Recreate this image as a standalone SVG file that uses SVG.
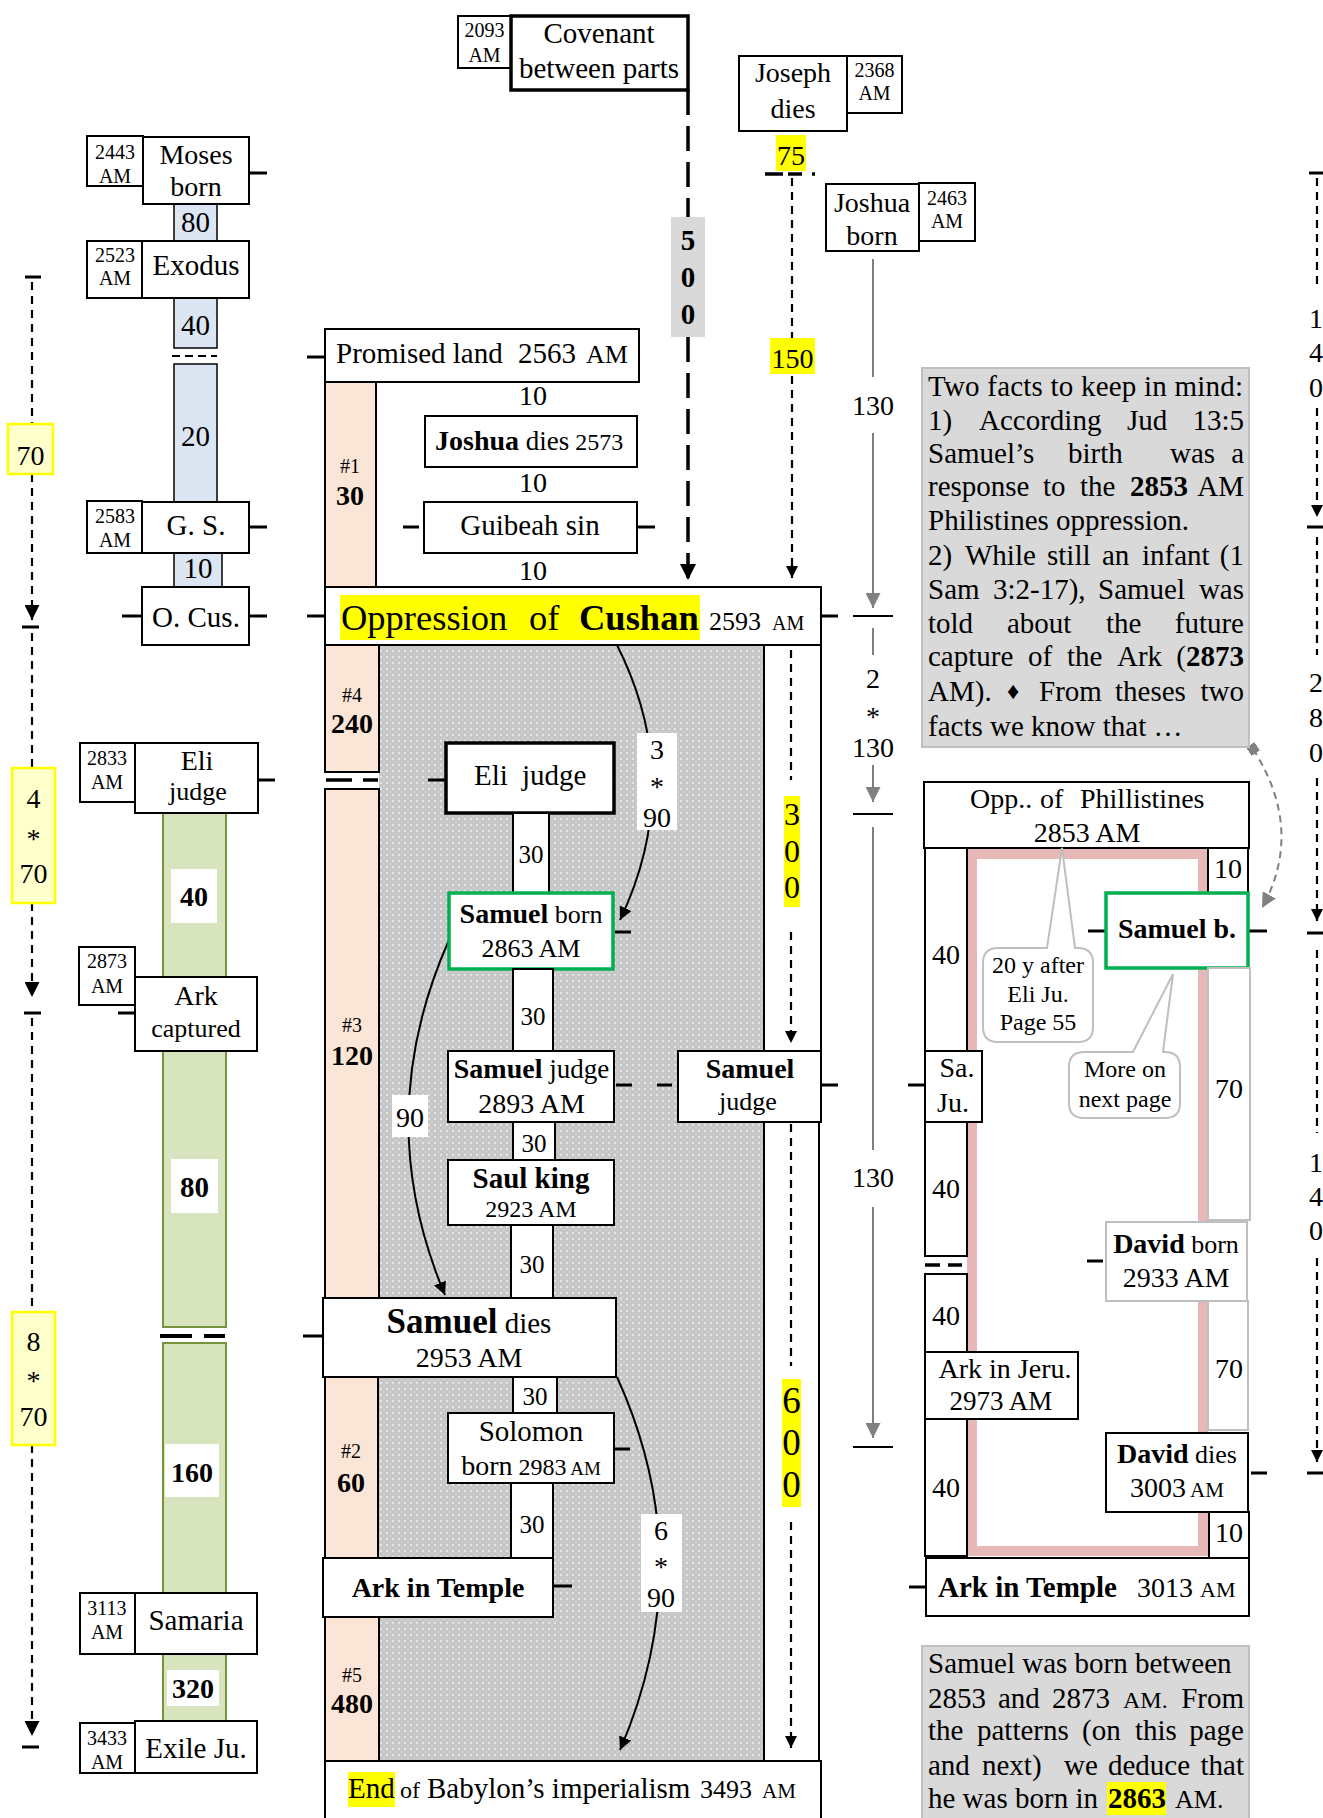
<svg xmlns="http://www.w3.org/2000/svg" width="1323" height="1818" viewBox="0 0 1323 1818">
<defs>
<style>
svg{font-size:28px}
text{font-family:"Liberation Serif","Times New Roman","DejaVu Serif",serif;fill:#000}
.m{text-anchor:middle}
.e{text-anchor:end}
.b{font-weight:bold}
.s20{font-size:20px}
.s24{font-size:24px}
.s25{font-size:25px}
.s26{font-size:26px}
.s29{font-size:29px}
.box{fill:#fff;stroke:#000;stroke-width:2}
.thk{fill:#fff;stroke:#000;stroke-width:3.5}
.grn{fill:#fff;stroke:#00b050;stroke-width:3.5}
.gry{fill:#fff;stroke:#bfbfbf;stroke-width:2}
.blu{fill:#dce6f2;stroke:#000;stroke-width:1.5}
.olv{fill:#d7e4bd;stroke:#77933c;stroke-width:2}
.pch{fill:#fbe5d6;stroke:#000;stroke-width:2}
.yel{fill:#ffff00}
.pale{fill:#ffffcc;stroke:#ffff00;stroke-width:2.5}
.note{fill:#d9d9d9;stroke:#bfbfbf;stroke-width:2}
.wht{fill:#fff}
.tk{stroke:#000;stroke-width:3;fill:none}
.tk2{stroke:#000;stroke-width:2;fill:none}
.dsh{stroke:#000;stroke-width:2.2;stroke-dasharray:8 6;fill:none}
.ldsh{stroke:#000;stroke-width:3.5;stroke-dasharray:25 11;fill:none}
.gl{stroke:#808080;stroke-width:2;fill:none}
.cur{stroke:#000;stroke-width:2;fill:none}
.gdc{stroke:#808080;stroke-width:2;stroke-dasharray:7 5;fill:none}
.call{fill:#fff;stroke:#bfbfbf;stroke-width:2}
.pink{fill:none;stroke:#e6b9b8;stroke-width:10}
</style>
<pattern id="hatch" width="6" height="6" patternUnits="userSpaceOnUse">
<rect width="6" height="6" fill="#c4c4c4"/>
<circle cx="3" cy="3" r="1.4" fill="#e2e2e2"/>
<circle cx="0" cy="0" r="0.9" fill="#dadada"/>
<circle cx="6" cy="0" r="0.9" fill="#dadada"/>
<circle cx="0" cy="6" r="0.9" fill="#dadada"/>
<circle cx="6" cy="6" r="0.9" fill="#dadada"/>
</pattern>
<marker id="aBig" viewBox="0 0 10 10" refX="10" refY="5" markerWidth="16" markerHeight="16" markerUnits="userSpaceOnUse" orient="auto"><path d="M0,0L10,5L0,10z" fill="#000"/></marker>
<marker id="aMed" viewBox="0 0 10 10" refX="10" refY="5" markerWidth="15" markerHeight="15" markerUnits="userSpaceOnUse" orient="auto"><path d="M0,0L10,5L0,10z" fill="#000"/></marker>
<marker id="aSm" viewBox="0 0 10 10" refX="10" refY="5" markerWidth="12" markerHeight="12" markerUnits="userSpaceOnUse" orient="auto"><path d="M0,0L10,5L0,10z" fill="#000"/></marker>
<marker id="aGr" viewBox="0 0 10 10" refX="10" refY="5" markerWidth="15" markerHeight="15" markerUnits="userSpaceOnUse" orient="auto"><path d="M0,0L10,5L0,10z" fill="#808080"/></marker>
<marker id="aCur" viewBox="0 0 10 10" refX="10" refY="5" markerWidth="13" markerHeight="13" markerUnits="userSpaceOnUse" orient="auto"><path d="M0,0L10,5L0,10z" fill="#000"/></marker>
<marker id="sqGr" viewBox="0 0 10 10" refX="5" refY="5" markerWidth="10" markerHeight="10" markerUnits="userSpaceOnUse" orient="auto"><rect width="10" height="10" fill="#808080"/></marker>
</defs>

<rect width="1323" height="1818" fill="#fff"/>

<!-- backgrounds / columns -->
<g id="backgrounds">
<rect x="379" y="645" width="385" height="1116" fill="url(#hatch)"/>
<rect class="pch" x="325" y="382" width="51" height="205"/>
<rect class="pch" x="325" y="645" width="54" height="127"/>
<path d="M326 780H352M363 780H378" stroke="#000" stroke-width="3.5"/>
<rect class="pch" x="325" y="789" width="54" height="509"/>
<rect class="pch" x="325" y="1377" width="53" height="181"/>
<rect class="pch" x="325" y="1617" width="54" height="144"/>
<rect class="box" x="764" y="645" width="57" height="406"/>
<rect class="box" x="764" y="1122" width="55" height="639"/>
<!-- left column bars -->
<rect class="blu" x="174" y="204" width="43" height="37"/>
<rect class="blu" x="174" y="298" width="43" height="50"/>
<path d="M172 356H217" stroke="#000" stroke-width="2" stroke-dasharray="8 5"/>
<rect class="blu" x="174" y="364" width="43" height="138"/>
<rect class="blu" x="174" y="553" width="48" height="34"/>
<rect class="olv" x="163" y="813" width="63" height="514"/>
<path d="M160 1336H192M204 1336H225" stroke="#000" stroke-width="4"/>
<rect class="olv" x="163" y="1343" width="63" height="250"/>
<rect class="olv" x="163" y="1654" width="63" height="67"/>
<!-- right frame -->
<rect class="pink" x="972" y="854" width="231" height="697"/>
</g>

<!-- connectors -->
<g id="connectors">
<!-- left timeline -->
<path class="tk" d="M25 277H41M22 627H39M24 1013H41M22 1747H39"/>
<path class="dsh" d="M32 282V424"/>
<path class="dsh" d="M32 474V620" marker-end="url(#aMed)"/>
<path class="dsh" d="M32 633V768"/>
<path class="dsh" d="M32 903V997" marker-end="url(#aMed)"/>
<path class="dsh" d="M32 1018V1312"/>
<path class="dsh" d="M32 1445V1736" marker-end="url(#aMed)"/>
<!-- right timeline -->
<path class="tk" d="M1309 173H1323M1307 527H1323M1307 933H1323M1307 1473H1323"/>
<path class="dsh" d="M1317 178V287"/>
<path class="dsh" d="M1317 408V517" marker-end="url(#aSm)"/>
<path class="dsh" d="M1317 537V655"/>
<path class="dsh" d="M1317 778V921" marker-end="url(#aSm)"/>
<path class="dsh" d="M1317 950V1133"/>
<path class="dsh" d="M1317 1258V1462" marker-end="url(#aSm)"/>
<!-- covenant 500 -->
<path class="ldsh" d="M688 90V217"/>
<path class="ldsh" d="M688 337V580" marker-end="url(#aBig)"/>
<!-- Joseph 75 / 150 -->
<path d="M765 174H783M788 174H802M812 174H815" stroke="#000" stroke-width="3.5"/>
<path class="dsh" d="M792 178V338"/>
<path class="dsh" d="M792 376V578" marker-end="url(#aSm)"/>
<!-- Joshua 130 -->
<path class="gl" d="M873 259V377"/>
<path class="gl" d="M873 433V608" marker-end="url(#aGr)"/>
<path class="tk2" d="M853 616H893M853 814H893M853 1447H893"/>
<path class="gl" d="M873 628V655"/>
<path class="gl" d="M873 765V802" marker-end="url(#aGr)"/>
<path class="gl" d="M873 827V1150"/>
<path class="gl" d="M873 1207V1438" marker-end="url(#aGr)"/>
<!-- 300 / 600 -->
<path class="dsh" d="M791 650V780"/>
<path class="dsh" d="M791 932V1043" marker-end="url(#aSm)"/>
<path class="dsh" d="M791 1124V1366"/>
<path class="dsh" d="M791 1522V1748" marker-end="url(#aSm)"/>
<!-- ticks on boxes -->
<path class="tk" d="M249 173H267M249 527H267M122 616H142M249 616H267M258 780H275M118 1013H135"/>
<path class="tk" d="M307 357H325M403 527H419M637 527H655M307 616H325M821 616H838M428 780H446M615 932H631M616 1085H632M657 1085H672M821 1085H838M614 1449H630M303 1336H323M553 1586H572"/>
<path class="tk" d="M908 1085H925M1088 931H1106M1248 931H1267M1087 1261H1103M1251 1473H1267M909 1587H926"/>
<path d="M925 1265H940M948 1265H962" stroke="#000" stroke-width="3.5"/>
<!-- curved arrows -->
<path class="cur" d="M617 645Q686 782 620 920" marker-end="url(#aCur)"/>
<path class="cur" d="M449 940Q370 1118 445 1295" marker-end="url(#aCur)"/>
<path class="cur" d="M617 1377Q701 1562 620 1750" marker-end="url(#aCur)"/>
<path class="gdc" d="M1253 749Q1305 830 1262 908" marker-start="url(#sqGr)" marker-end="url(#aGr)"/>
<!-- labels on connectors -->
<rect class="wht" x="637" y="733" width="40" height="97"/>
<text class="m" x="657" y="759">3</text>
<text class="m" x="657" y="796">*</text>
<text class="m" x="657" y="827">90</text>
<rect class="wht" x="392" y="1095" width="36" height="42"/>
<text class="m" x="410" y="1127">90</text>
<rect class="wht" x="641" y="1514" width="41" height="98"/>
<text class="m" x="661" y="1540">6</text>
<text class="m" x="661" y="1576">*</text>
<text class="m" x="661" y="1607">90</text>
<text class="m" x="873" y="415">130</text>
<text class="m" x="873" y="688">2</text>
<text class="m" x="873" y="726">*</text>
<text class="m" x="873" y="757">130</text>
<text class="m" x="873" y="1187">130</text>
<text x="1309" y="328">1</text>
<text x="1309" y="362">4</text>
<text x="1309" y="397">0</text>
<text x="1309" y="692">2</text>
<text x="1309" y="727">8</text>
<text x="1309" y="762">0</text>
<text x="1309" y="1172">1</text>
<text x="1309" y="1206">4</text>
<text x="1309" y="1240">0</text>
</g>

<!-- left column nodes -->
<g id="n-moses">
<rect class="box" x="87" y="136" width="56" height="50"/>
<rect class="box" x="143" y="137" width="106" height="67"/>
<text class="m s20" x="115" y="159">2443</text><text class="m s20" x="115" y="183">AM</text>
<text class="m" x="196" y="164">Moses</text><text class="m" x="196" y="196">born</text>
</g>
<g id="n-80a"><text class="m s29" x="195.5" y="232">80</text></g>
<g id="n-exodus">
<rect class="box" x="87" y="241" width="55" height="57"/>
<rect class="box" x="142" y="241" width="107" height="57"/>
<text class="m s20" x="115" y="262">2523</text><text class="m s20" x="115" y="285">AM</text>
<text class="m s29" x="196" y="275">Exodus</text>
</g>
<g id="n-40a"><text class="m s29" x="195.5" y="335">40</text></g>
<g id="n-20"><text class="m s29" x="195.5" y="446">20</text></g>
<g id="n-gs">
<rect class="box" x="87" y="501" width="55" height="52"/>
<rect class="box" x="142" y="502" width="107" height="51"/>
<text class="m s20" x="115" y="523">2583</text><text class="m s20" x="115" y="547">AM</text>
<text class="m s29" x="196" y="535">G. S.</text>
</g>
<g id="n-10a"><text class="m s29" x="198" y="578">10</text></g>
<g id="n-ocus">
<rect class="box" x="142" y="587" width="107" height="58"/>
<text class="m s29" x="196" y="627">O. Cus.</text>
</g>
<g id="n-eli-left">
<rect class="box" x="80" y="743" width="55" height="59"/>
<rect class="box" x="135" y="743" width="123" height="70"/>
<text class="m s20" x="107" y="765">2833</text><text class="m s20" x="107" y="789">AM</text>
<text class="m" x="197" y="770">Eli</text><text class="m s26" x="198" y="800">judge</text>
</g>
<g id="n-40g"><rect class="wht" x="171" y="869" width="46" height="54"/><text class="m b" x="194" y="906">40</text></g>
<g id="n-ark-captured">
<rect class="box" x="79" y="947" width="56" height="58"/>
<rect class="box" x="135" y="977" width="122" height="74"/>
<text class="m s20" x="107" y="968">2873</text><text class="m s20" x="107" y="993">AM</text>
<text class="m" x="196" y="1005">Ark</text><text class="m s26" x="196" y="1037">captured</text>
</g>
<g id="n-80g"><rect class="wht" x="171" y="1159" width="47" height="54"/><text class="m b s29" x="194.5" y="1197">80</text></g>
<g id="n-160"><rect class="wht" x="165" y="1444" width="54" height="53"/><text class="m b" x="192" y="1482">160</text></g>
<g id="n-samaria">
<rect class="box" x="80" y="1593" width="55" height="61"/>
<rect class="box" x="135" y="1593" width="122" height="61"/>
<text class="m s20" x="107" y="1615">3113</text><text class="m s20" x="107" y="1639">AM</text>
<text class="m s29" x="196" y="1630">Samaria</text>
</g>
<g id="n-320"><rect class="wht" x="167" y="1670" width="52" height="36"/><text class="m b" x="193" y="1698">320</text></g>
<g id="n-exile">
<rect class="box" x="80" y="1723" width="55" height="50"/>
<rect class="box" x="135" y="1721" width="122" height="52"/>
<text class="m s20" x="107" y="1745">3433</text><text class="m s20" x="107" y="1769">AM</text>
<text class="m s29" x="196" y="1758">Exile Ju.</text>
</g>

<!-- left timeline labels -->
<g id="n-70"><rect class="pale" x="8" y="424" width="45" height="50"/><text class="m" x="30.5" y="465">70</text></g>
<g id="n-4x70"><rect class="pale" x="12" y="768" width="43" height="135"/><text class="m" x="33.5" y="808">4</text><text class="m" x="33.5" y="848">*</text><text class="m" x="33.5" y="883">70</text></g>
<g id="n-8x70"><rect class="pale" x="12" y="1312" width="43" height="133"/><text class="m" x="33.5" y="1351">8</text><text class="m" x="33.5" y="1390">*</text><text class="m" x="33.5" y="1426">70</text></g>

<!-- top nodes -->
<g id="n-covenant">
<rect class="box" x="458" y="16" width="53" height="52"/>
<text class="m s20" x="484.5" y="37">2093</text><text class="m s20" x="484.5" y="62">AM</text>
<rect class="thk" x="511" y="16" width="177" height="74"/>
<text class="m s29" x="599" y="43">Covenant</text><text class="m s29" x="599" y="78">between parts</text>
</g>
<g id="n-500"><rect x="671" y="217" width="34" height="120" fill="#d9d9d9"/><text class="m b s29" x="688" y="250">5</text><text class="m b s29" x="688" y="287">0</text><text class="m b s29" x="688" y="324">0</text></g>
<g id="n-joseph">
<rect class="box" x="739" y="56" width="108" height="75"/>
<text class="m" x="793" y="82">Joseph</text><text class="m" x="793" y="118">dies</text>
<rect class="box" x="847" y="56" width="55" height="57"/>
<text class="m s20" x="874.5" y="77">2368</text><text class="m s20" x="874.5" y="100">AM</text>
</g>
<g id="n-75"><rect class="yel" x="776" y="135" width="30" height="36"/><text class="m" x="791" y="165">75</text></g>
<g id="n-150"><rect class="yel" x="770" y="338" width="45" height="36"/><text class="m" x="792.5" y="368">150</text></g>
<g id="n-joshua-born">
<rect class="box" x="826" y="184" width="93" height="67"/>
<text class="m" x="872" y="212">Joshua</text><text class="m" x="872" y="245">born</text>
<rect class="box" x="919" y="183" width="56" height="58"/>
<text class="m s20" x="947" y="205">2463</text><text class="m s20" x="947" y="228">AM</text>
</g>

<!-- middle column nodes -->
<g id="n-promised">
<rect class="box" x="325" y="329" width="314" height="53"/>
<text class="s29" x="336" y="363">Promised land</text><text class="s29" x="518" y="363">2563</text><text class="s26" x="586" y="363">AM</text>
</g>
<g id="n-10b"><text class="m" x="533" y="405">10</text></g>
<g id="n-joshua-dies">
<rect class="box" x="425" y="416" width="212" height="51"/>
<text x="435" y="450"><tspan class="b">Joshua</tspan><tspan font-size="27"> dies</tspan><tspan class="s24"> 2573</tspan></text>
</g>
<g id="n-10c"><text class="m" x="533" y="492">10</text></g>
<g id="n-guibeah">
<rect class="box" x="424" y="502" width="213" height="51"/>
<text class="m s29" x="530" y="535">Guibeah sin</text>
</g>
<g id="n-10d"><text class="m" x="533" y="580">10</text></g>
<g id="n-cushan">
<rect class="box" x="325" y="587" width="496" height="58"/>
<rect class="yel" x="340" y="595" width="360" height="45"/>
<text x="341" y="630" font-size="36.5">Oppression</text>
<text x="529" y="630" font-size="36.5">of</text>
<text class="b" x="579" y="630" font-size="36.5">Cushan</text>
<text class="s26" x="709" y="630">2593</text><text x="772" y="630" font-size="20">AM</text>
</g>
<g id="n-p1"><text class="m s20" x="350" y="473">#1</text><text class="m b" x="350" y="505">30</text></g>
<g id="n-p4"><text class="m s20" x="352" y="702">#4</text><text class="m b" x="352" y="733">240</text></g>
<g id="n-p3"><text class="m s20" x="352" y="1032">#3</text><text class="m b" x="352" y="1065">120</text></g>
<g id="n-p2"><text class="m s20" x="351" y="1458">#2</text><text class="m b" x="351" y="1492">60</text></g>
<g id="n-p5"><text class="m s20" x="352" y="1682">#5</text><text class="m b" x="352" y="1713">480</text></g>
<g id="n-300"><rect class="yel" x="784" y="796" width="16" height="111"/><text class="m" x="792" y="825" font-size="32">3</text><text class="m" x="792" y="862" font-size="32">0</text><text class="m" x="792" y="898" font-size="32">0</text></g>
<g id="n-600"><rect class="yel" x="782" y="1379" width="19" height="128"/><text class="m" x="791.5" y="1413" font-size="37">6</text><text class="m" x="791.5" y="1455" font-size="37">0</text><text class="m" x="791.5" y="1497" font-size="37">0</text></g>

<g id="n-eli-mid">
<rect class="thk" x="446" y="743" width="168" height="70"/>
<text class="s29" x="474" y="785">Eli</text><text class="s29" x="522" y="785">judge</text>
</g>
<g id="c-30a"><rect class="box" x="513" y="813" width="36" height="80"/><text class="m s25" x="531" y="863">30</text></g>
<g id="n-samuel-born">
<rect class="grn" x="449" y="893" width="164" height="76"/>
<text class="m" x="531" y="923"><tspan class="b">Samuel</tspan><tspan class="s26"> born</tspan></text>
<text class="m s26" x="531" y="957">2863 AM</text>
</g>
<g id="c-30b"><rect class="box" x="513" y="969" width="40" height="82"/><text class="m s25" x="533" y="1025">30</text></g>
<g id="n-samuel-judge">
<rect class="box" x="448" y="1051" width="166" height="71"/>
<text class="m" x="531.5" y="1078"><tspan class="b">Samuel</tspan><tspan font-size="27"> judge</tspan></text>
<text class="m" x="531.5" y="1113">2893 AM</text>
</g>
<g id="n-samuel-judge-r">
<rect class="box" x="678" y="1051" width="143" height="71"/>
<text class="m b" x="750" y="1078">Samuel</text>
<text class="m s26" x="748" y="1110">judge</text>
</g>
<g id="c-30c"><rect class="box" x="513" y="1122" width="42" height="38"/><text class="m s25" x="534" y="1152">30</text></g>
<g id="n-saul">
<rect class="box" x="448" y="1160" width="166" height="65"/>
<text class="m b s29" x="531" y="1188">Saul king</text>
<text class="m s24" x="531" y="1217">2923 AM</text>
</g>
<g id="c-30d"><rect class="box" x="511" y="1225" width="42" height="73"/><text class="m s25" x="532" y="1273">30</text></g>
<g id="n-samuel-dies">
<rect class="box" x="323" y="1298" width="293" height="79"/>
<text class="m" x="469" y="1333"><tspan class="b" font-size="35">Samuel</tspan><tspan class="s29"> dies</tspan></text>
<text class="m" x="469" y="1367">2953 AM</text>
</g>
<g id="c-30e"><rect class="box" x="513" y="1377" width="44" height="36"/><text class="m s25" x="535" y="1405">30</text></g>
<g id="n-solomon">
<rect class="box" x="448" y="1413" width="166" height="70"/>
<text class="m s29" x="531" y="1441">Solomon</text>
<text class="m" x="531" y="1475">born<tspan class="s24"> 2983</tspan><tspan font-size="19"> AM</tspan></text>
</g>
<g id="c-30f"><rect class="box" x="511" y="1483" width="42" height="75"/><text class="m s25" x="532" y="1533">30</text></g>
<g id="n-ark-temple-mid">
<rect class="box" x="323" y="1558" width="230" height="59"/>
<text class="m b" x="438" y="1597">Ark in Temple</text>
</g>
<g id="n-end">
<rect class="box" x="325" y="1761" width="496" height="70"/>
<rect class="yel" x="348" y="1772" width="47" height="35"/>
<text class="s29" x="348" y="1798">End</text>
<text class="s24" x="400" y="1798">of</text>
<text class="s29" x="427" y="1798">Babylon’s imperialism</text>
<text class="s26" x="700" y="1798">3493</text>
<text x="762" y="1798" font-size="21">AM</text>
</g>

<!-- right side -->
<g id="n-note1">
<rect class="note" x="922" y="368" width="327" height="379"/>
<text class="s29" x="928" y="396" textLength="315" lengthAdjust="spacing">Two facts to keep in mind:</text>
<text class="s29" x="928" y="430">1)</text><text class="s29" x="979" y="430">According</text><text class="s29" x="1127" y="430">Jud</text><text class="s29 e" x="1244" y="430">13:5</text>
<text class="s29" x="928" y="463">Samuel’s</text><text class="s29" x="1068" y="463">birth</text><text class="s29" x="1170" y="463">was</text><text class="s29 e" x="1244" y="463">a</text>
<text class="s29" x="928" y="496">response</text><text class="s29" x="1043" y="496">to</text><text class="s29" x="1080" y="496">the</text><text class="s29 b" x="1130" y="496">2853</text><text class="s29 e" x="1244" y="496">AM</text>
<text class="s29" x="928" y="530">Philistines oppression.</text>
<text class="s29" x="928" y="565">2)</text><text class="s29" x="965" y="565">While</text><text class="s29" x="1047" y="565">still</text><text class="s29" x="1102" y="565">an</text><text class="s29" x="1142" y="565">infant</text><text class="s29 e" x="1244" y="565">(1</text>
<text class="s29" x="928" y="599">Sam</text><text class="s29" x="993" y="599">3:2-17),</text><text class="s29" x="1098" y="599">Samuel</text><text class="s29 e" x="1244" y="599">was</text>
<text class="s29" x="928" y="633">told</text><text class="s29" x="1007" y="633">about</text><text class="s29" x="1106" y="633">the</text><text class="s29 e" x="1244" y="633">future</text>
<text class="s29" x="928" y="666">capture</text><text class="s29" x="1028" y="666">of</text><text class="s29" x="1067" y="666">the</text><text class="s29" x="1117" y="666">Ark</text><text class="s29 e" x="1244" y="666">(<tspan class="b">2873</tspan></text>
<text class="s29" x="928" y="701">AM).</text><text class="s24" x="1007" y="699">♦</text><text class="s29" x="1039" y="701">From</text><text class="s29" x="1115" y="701">theses</text><text class="s29 e" x="1244" y="701">two</text>
<text class="s29" x="928" y="736">facts we know that …</text>
</g>
<g id="n-opp-phil">
<rect class="box" x="924" y="782" width="325" height="66"/>
<text x="970" y="808">Opp..</text><text x="1040" y="808">of</text><text x="1080" y="808">Phillistines</text>
<text class="m" x="1087" y="842">2853 AM</text>
</g>
<g id="n-r10a"><rect class="box" x="1208" y="848" width="40" height="45"/><text class="m" x="1228" y="878">10</text></g>
<g id="n-samuel-b">
<rect class="grn" x="1106" y="893" width="142" height="75"/>
<text class="m b" x="1177" y="938">Samuel b.</text>
</g>
<g id="n-r70a"><rect class="gry" x="1208" y="968" width="42" height="252"/><text class="m" x="1229" y="1098">70</text></g>
<g id="n-r40a"><rect class="box" x="925" y="848" width="42" height="203"/><text class="m" x="946" y="964">40</text></g>
<g id="n-saju">
<rect class="box" x="925" y="1051" width="57" height="71"/>
<text class="m" x="957" y="1077">Sa.</text><text class="m" x="953" y="1112">Ju.</text>
</g>
<g id="n-r40b"><rect class="box" x="925" y="1122" width="42" height="134"/><text class="m" x="946" y="1198">40</text></g>
<g id="n-r40c"><rect class="box" x="925" y="1274" width="42" height="78"/><text class="m" x="946" y="1325">40</text></g>
<g id="n-ark-jeru">
<rect class="box" x="925" y="1352" width="153" height="67"/>
<text class="m" x="1005" y="1378">Ark in Jeru.</text>
<text class="m" x="1001" y="1410" font-size="27">2973 AM</text>
</g>
<g id="n-r40d"><rect class="box" x="925" y="1419" width="42" height="137"/><text class="m" x="946" y="1497">40</text></g>
<g id="n-david-born">
<rect class="gry" x="1106" y="1222" width="141" height="79"/>
<text class="m" x="1176" y="1253"><tspan class="b">David</tspan><tspan class="s26"> born</tspan></text>
<text class="m" x="1176" y="1287">2933 AM</text>
</g>
<g id="n-r70b"><rect class="gry" x="1208" y="1301" width="40" height="129"/><text class="m" x="1229" y="1378">70</text></g>
<g id="n-david-dies">
<rect class="box" x="1106" y="1433" width="142" height="79"/>
<text class="m" x="1177" y="1463"><tspan class="b">David</tspan><tspan class="s26"> dies</tspan></text>
<text class="m" x="1177" y="1497">3003<tspan font-size="21"> AM</tspan></text>
</g>
<g id="n-r10b"><rect class="box" x="1209" y="1512" width="40" height="46"/><text class="m" x="1229" y="1542">10</text></g>
<g id="n-ark-temple-r">
<rect class="box" x="926" y="1558" width="323" height="58"/>
<text class="b s29" x="938" y="1597">Ark in Temple</text>
<text x="1137" y="1597">3013</text><text x="1200" y="1597" font-size="22">AM</text>
</g>
<g id="n-callout1">
<path class="call" d="M998 948H1047L1062 848L1075 948H1078Q1093 948 1093 963V1027Q1093 1042 1078 1042H998Q983 1042 983 1027V963Q983 948 998 948Z"/>
<text class="m s24" x="1038" y="973">20 y after</text>
<text class="m s24" x="1038" y="1002">Eli Ju.</text>
<text class="m s24" x="1038" y="1030">Page 55</text>
</g>
<g id="n-callout2">
<path class="call" d="M1084 1052H1133L1173 974L1163 1052H1165Q1180 1052 1180 1067V1103Q1180 1118 1165 1118H1084Q1069 1118 1069 1103V1067Q1069 1052 1084 1052Z"/>
<text class="m s24" x="1125" y="1077">More on</text>
<text class="m s24" x="1125" y="1107">next page</text>
</g>
<g id="n-note2">
<rect class="note" x="922" y="1646" width="327" height="190"/>
<text class="s29" x="928" y="1673">Samuel was born between</text>
<text class="s29" x="928" y="1708">2853</text><text class="s29" x="998" y="1708">and</text><text class="s29" x="1052" y="1708">2873</text><text class="s24" x="1123" y="1708">AM.</text><text class="s29 e" x="1244" y="1708">From</text>
<text class="s29" x="928" y="1740">the</text><text class="s29" x="977" y="1740">patterns</text><text class="s29" x="1082" y="1740">(on</text><text class="s29" x="1135" y="1740">this</text><text class="s29 e" x="1244" y="1740">page</text>
<text class="s29" x="928" y="1775">and</text><text class="s29" x="982" y="1775">next)</text><text class="s29" x="1064" y="1775">we</text><text class="s29" x="1108" y="1775">deduce</text><text class="s29 e" x="1244" y="1775">that</text>
<rect class="yel" x="1107" y="1782" width="59" height="33"/>
<text class="s29" x="928" y="1808">he was born in</text><text class="s29 b" x="1108" y="1808">2863</text><text class="s26" x="1175" y="1808">AM.</text>
</g>
</svg>
